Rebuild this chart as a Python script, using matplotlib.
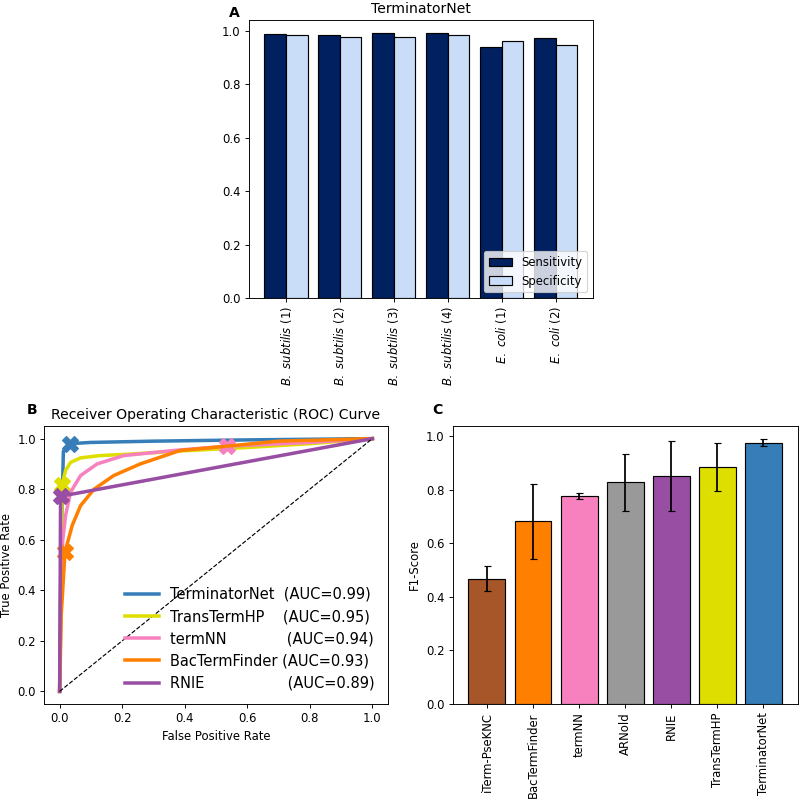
import numpy as np
import matplotlib
matplotlib.use("Agg")
import matplotlib.pyplot as plt

# panel A: TerminatorNet per dataset
datasets = [r"$B.\ subtilis$ (1)", r"$B.\ subtilis$ (2)", r"$B.\ subtilis$ (3)",
            r"$B.\ subtilis$ (4)", r"$E.\ coli$ (1)", r"$E.\ coli$ (2)"]
sensitivity = [0.987, 0.986, 0.991, 0.991, 0.939, 0.975]
specificity = [0.984, 0.978, 0.978, 0.986, 0.962, 0.948]

# panel B: ROC curves
roc_names = ["TerminatorNet  ", "TransTermHP    ", "termNN             ",
             "BacTermFinder ", "RNIE                  "]
roc_auc = [0.99, 0.95, 0.94, 0.93, 0.89]
roc_colors = ["#377eb8", "#dede00", "#f781bf", "#ff7f00", "#984ea3"]
roc_fpr = [
    [0, 0.005, 0.01, 0.012, 0.032, 0.1, 0.3, 0.6, 1.0],
    [0, 0.004, 0.008, 0.019, 0.035, 0.067, 0.13, 0.215, 0.4, 0.6, 0.8, 1.0],
    [0, 0.005, 0.01, 0.019, 0.035, 0.067, 0.12, 0.205, 0.364, 0.534, 0.8, 1.0],
    [0, 0.005, 0.017, 0.04, 0.067, 0.11, 0.173, 0.258, 0.385, 0.55, 0.7, 1.0],
    [0, 0.002, 0.003, 1.0],
]
roc_tpr = [
    [0, 0.6, 0.85, 0.95, 0.98, 0.985, 0.99, 0.995, 1.0],
    [0, 0.5, 0.818, 0.874, 0.906, 0.924, 0.933, 0.938, 0.952, 0.965, 0.98, 1.0],
    [0, 0.4, 0.6, 0.696, 0.788, 0.854, 0.9, 0.933, 0.953, 0.97, 0.985, 1.0],
    [0, 0.3, 0.55, 0.656, 0.735, 0.80, 0.854, 0.9, 0.953, 0.972, 0.99, 1.0],
    [0, 0.5, 0.772, 1.0],
]
# operating points (X markers)
op_fpr = [0.032, 0.008, 0.534, 0.017, 0.003]
op_tpr = [0.98, 0.818, 0.97, 0.55, 0.772]

# panel C: F1 scores
tools = ["iTerm-PseKNC", "BacTermFinder", "termNN", "ARNold", "RNIE", "TransTermHP", "TerminatorNet"]
f1_mean = [0.468, 0.681, 0.776, 0.827, 0.849, 0.884, 0.975]
f1_err = [0.046, 0.14, 0.01, 0.106, 0.131, 0.09, 0.0125]
tool_colors = ["#a65628", "#ff7f00", "#f781bf", "#999999", "#984ea3", "#dede00", "#377eb8"]

dpi = 84
fig = plt.figure(figsize=(800 / dpi, 800 / dpi), dpi=dpi)

# ---- A
axA = fig.add_axes([0.311, 0.6275, 0.43, 0.3475])
x = np.arange(len(datasets))
w = 0.4
axA.bar(x - w / 2, sensitivity, w, color="#002060", edgecolor="black", label="Sensitivity")
axA.bar(x + w / 2, specificity, w, color="#c9dcf8", edgecolor="black", label="Specificity")
axA.set_xticks(x)
axA.set_xticklabels(datasets, rotation=90)
axA.set_title("TerminatorNet")
axA.legend(loc="lower right")
fig.text(0.2925, 0.992, "A", fontweight="bold", fontsize=12, ha="center", va="top")

# ---- B
axB = fig.add_axes([0.055, 0.12, 0.43, 0.3475])
for name, auc, c, fx, ty, ox, oy in zip(roc_names, roc_auc, roc_colors, roc_fpr, roc_tpr, op_fpr, op_tpr):
    axB.plot(fx, ty, color=c, lw=3, label=f"{name}(AUC={auc:.2f})")
    axB.plot(ox, oy, marker="X", color=c, markersize=13, linestyle="none")
axB.plot([0, 1], [0, 1], "k--", lw=1)
axB.set_xlabel("False Positive Rate")
axB.set_ylabel("True Positive Rate")
axB.set_title("Receiver Operating Characteristic (ROC) Curve")
axB.legend(loc="lower right", frameon=False, fontsize=12.5, handlelength=2.3)
fig.text(0.04, 0.496, "B", fontweight="bold", fontsize=12, ha="center", va="top")

# ---- C
axC = fig.add_axes([0.566, 0.12, 0.431, 0.3475])
xc = np.arange(len(tools))
axC.bar(xc, f1_mean, yerr=f1_err, color=tool_colors, edgecolor="black", capsize=3)
axC.set_xticks(xc)
axC.set_xticklabels(tools, rotation=90)
axC.set_ylabel("F1-Score")
fig.text(0.547, 0.496, "C", fontweight="bold", fontsize=12, ha="center", va="top")

plt.savefig("out.png", dpi=dpi)
